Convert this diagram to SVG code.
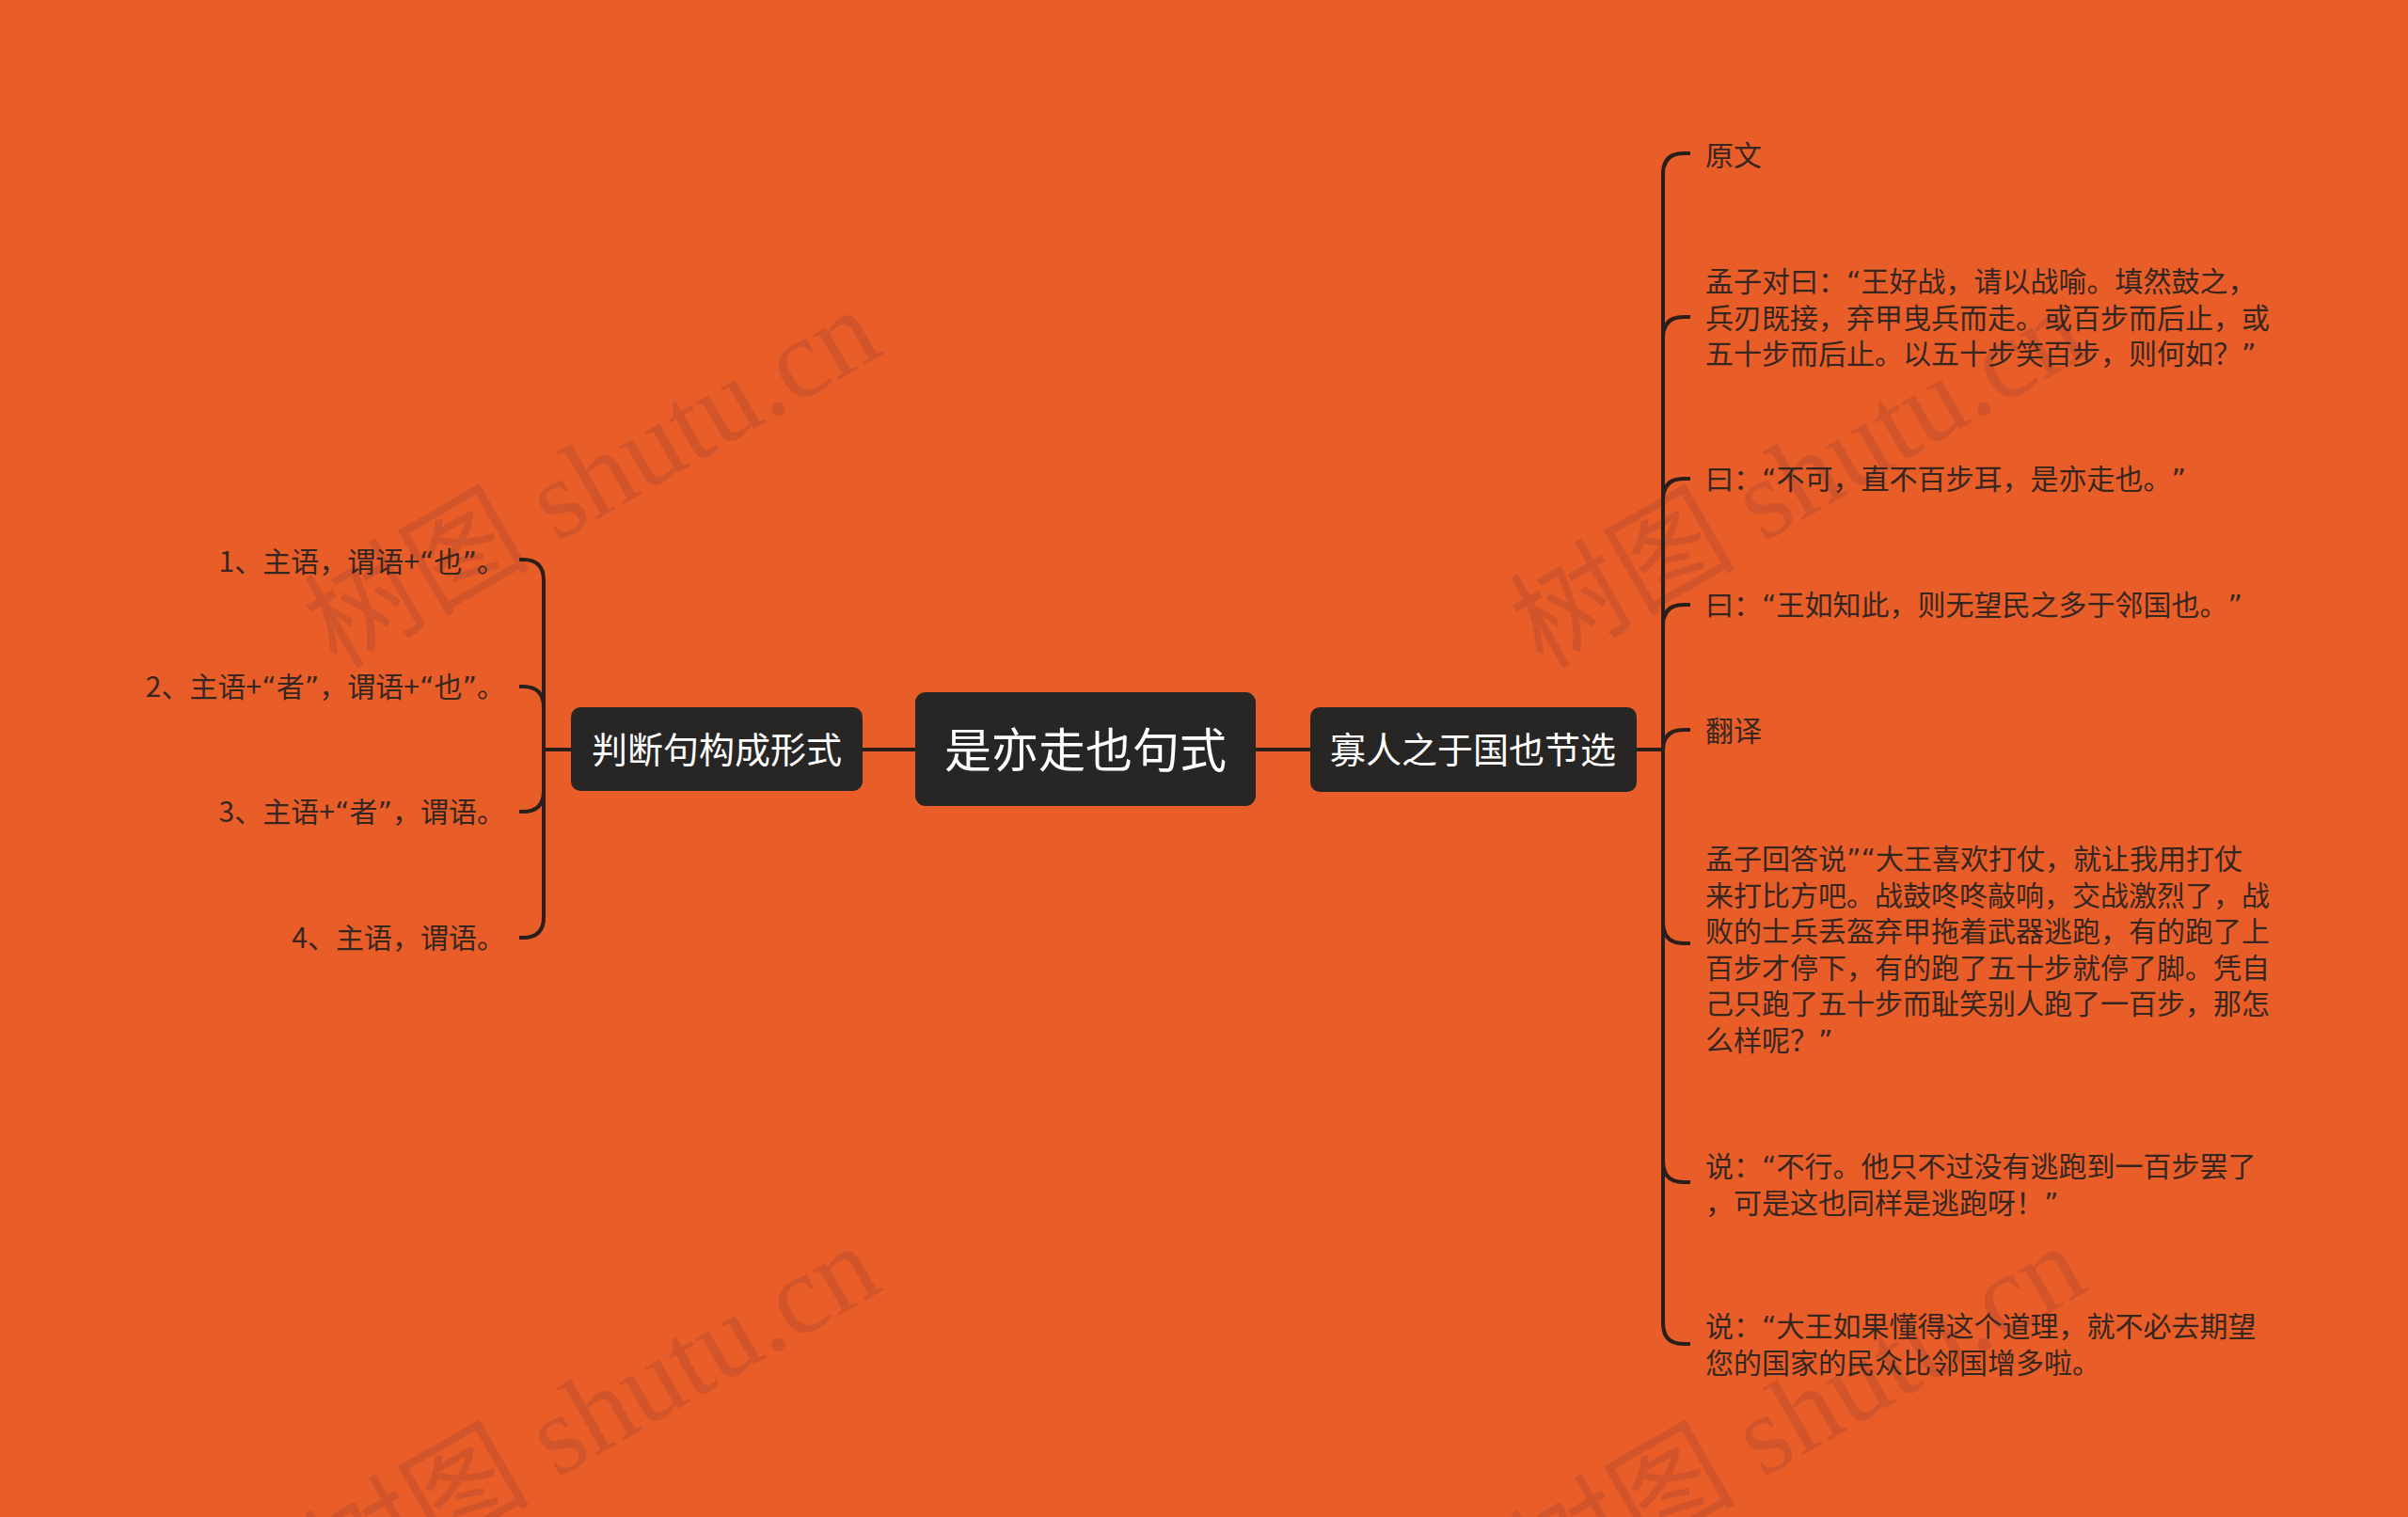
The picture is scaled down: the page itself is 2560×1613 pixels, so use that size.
<svg xmlns="http://www.w3.org/2000/svg" width="2560" height="1613" viewBox="0 0 2560 1613">
<style>
.bg{fill:#E95E28}
.wm{fill:#C9512C;opacity:0.7;font-family:"Liberation Serif","Noto Sans CJK SC",serif;font-size:120px}
.node rect{fill:#272625}
.nt{fill:#FFFFFF;font-family:"Noto Sans CJK SC","Noto Sans",sans-serif;text-anchor:middle}
.leaf{fill:#35261F;font-family:"Noto Sans CJK SC","Noto Sans",sans-serif;font-size:30px;text-spacing-trim:space-all}
.q{font-family:"DejaVu Sans",sans-serif}
.lr{text-anchor:end}
.conn path{fill:none;stroke:#2A1F1B;stroke-width:4}
</style>
<rect class="bg" x="0" y="0" width="2560" height="1613"/>
<g id="watermarks">
<text class="wm" transform="translate(358 712) rotate(-30)">树图 shutu.cn</text>
<text class="wm" transform="translate(1640 712) rotate(-30)">树图 shutu.cn</text>
<text class="wm" transform="translate(358 1707) rotate(-30)">树图 shutu.cn</text>
<text class="wm" transform="translate(1640 1707) rotate(-30)">树图 shutu.cn</text>
</g>
<g id="connectors" class="conn">
<path d="M917,797 H973"/>
<path d="M1335,797 H1393"/>
<path d="M607,797 H578"/>
<path d="M578,797 V617 Q578,595 556,595 H552"/>
<path d="M578,797 V752 Q578,730 556,730 H552"/>
<path d="M578,797 V841 Q578,863 556,863 H552"/>
<path d="M578,797 V975 Q578,997 556,997 H552"/>
<path d="M1740,797 H1768"/>
<path d="M1768,797 V185 Q1768,163 1790,163 H1797"/>
<path d="M1768,797 V359 Q1768,337 1790,337 H1797"/>
<path d="M1768,797 V531 Q1768,509 1790,509 H1797"/>
<path d="M1768,797 V665 Q1768,643 1790,643 H1797"/>
<path d="M1768,797 Q1768,776 1790,776 H1797"/>
<path d="M1768,797 V981 Q1768,1003 1790,1003 H1797"/>
<path d="M1768,797 V1235 Q1768,1257 1790,1257 H1797"/>
<path d="M1768,797 V1407 Q1768,1429 1790,1429 H1797"/>
</g>
<g id="node-root" class="node">
<rect x="973" y="736" width="362" height="121" rx="11"/>
<text class="nt" x="1154" y="816" font-size="50">是亦走也句式</text>
</g>
<g id="node-left" class="node">
<rect x="607" y="752" width="310" height="89" rx="10"/>
<text class="nt" x="762" y="811" font-size="38">判断句构成形式</text>
</g>
<g id="node-right" class="node">
<rect x="1393" y="752" width="347" height="90" rx="10"/>
<text class="nt" x="1566" y="811" font-size="38">寡人之于国也节选</text>
</g>
<g id="leaf-l1"><text class="leaf lr" x="537" y="608">1、主语，谓语+<tspan class="q">“</tspan>也<tspan class="q">”</tspan>。</text></g>
<g id="leaf-l2"><text class="leaf lr" x="537" y="741">2、主语+<tspan class="q">“</tspan>者<tspan class="q">”</tspan>，谓语+<tspan class="q">“</tspan>也<tspan class="q">”</tspan>。</text></g>
<g id="leaf-l3"><text class="leaf lr" x="537" y="874">3、主语+<tspan class="q">“</tspan>者<tspan class="q">”</tspan>，谓语。</text></g>
<g id="leaf-l4"><text class="leaf lr" x="537" y="1008">4、主语，谓语。</text></g>
<g id="leaf-r1"><text class="leaf" x="1813" y="176">原文</text></g>
<g id="leaf-r2"><text class="leaf" x="1813" y="310">孟子对曰：<tspan class="q">“</tspan>王好战，请以战喻。填然鼓之，</text><text class="leaf" x="1813" y="348.5">兵刃既接，弃甲曳兵而走。或百步而后止，或</text><text class="leaf" x="1813" y="387">五十步而后止。以五十步笑百步，则何如？<tspan class="q">”</tspan></text></g>
<g id="leaf-r3"><text class="leaf" x="1813" y="520">曰：<tspan class="q">“</tspan>不可，直不百步耳，是亦走也。<tspan class="q">”</tspan></text></g>
<g id="leaf-r4"><text class="leaf" x="1813" y="654">曰：<tspan class="q">“</tspan>王如知此，则无望民之多于邻国也。<tspan class="q">”</tspan></text></g>
<g id="leaf-r5"><text class="leaf" x="1813" y="788">翻译</text></g>
<g id="leaf-r6"><text class="leaf" x="1813" y="924">孟子回答说<tspan class="q">”“</tspan>大王喜欢打仗，就让我用打仗</text><text class="leaf" x="1813" y="962.5">来打比方吧。战鼓咚咚敲响，交战激烈了，战</text><text class="leaf" x="1813" y="1001">败的士兵丢盔弃甲拖着武器逃跑，有的跑了上</text><text class="leaf" x="1813" y="1039.5">百步才停下，有的跑了五十步就停了脚。凭自</text><text class="leaf" x="1813" y="1078">己只跑了五十步而耻笑别人跑了一百步，那怎</text><text class="leaf" x="1813" y="1116.5">么样呢？<tspan class="q">”</tspan></text></g>
<g id="leaf-r7"><text class="leaf" x="1813" y="1251">说：<tspan class="q">“</tspan>不行。他只不过没有逃跑到一百步罢了</text><text class="leaf" x="1813" y="1289.5">，可是这也同样是逃跑呀！<tspan class="q">”</tspan></text></g>
<g id="leaf-r8"><text class="leaf" x="1813" y="1421">说：<tspan class="q">“</tspan>大王如果懂得这个道理，就不必去期望</text><text class="leaf" x="1813" y="1459.5">您的国家的民众比邻国增多啦。</text></g>
</svg>
